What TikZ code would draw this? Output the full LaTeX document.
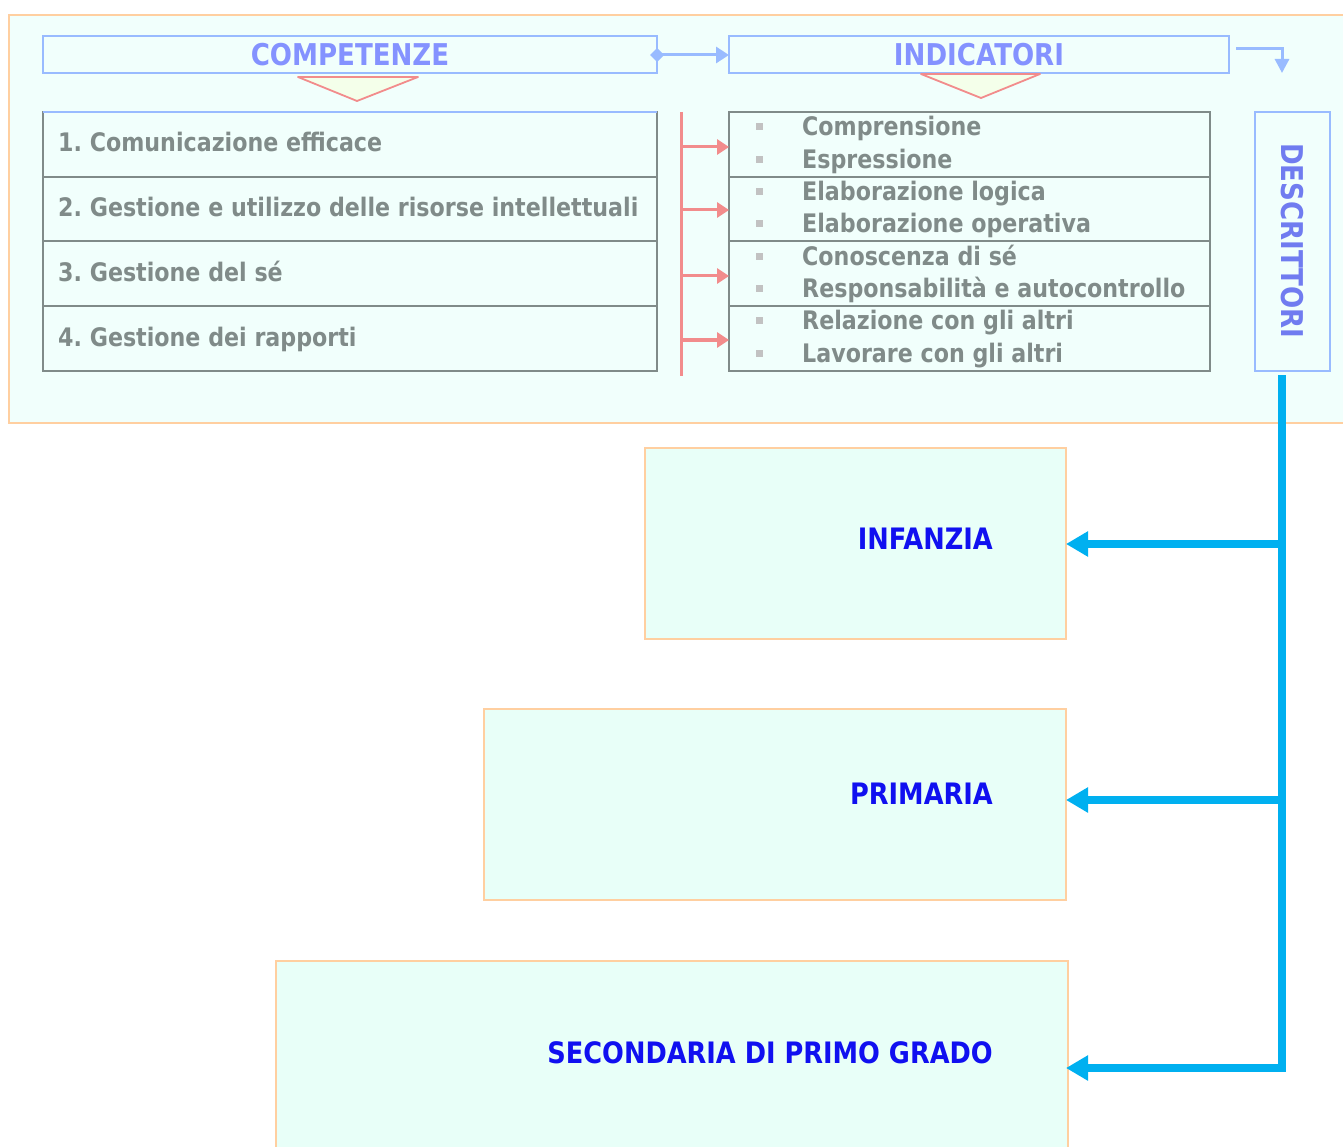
\documentclass[tikz,border=0pt]{standalone}
\usepackage{fontspec}
\setmainfont{DejaVu Sans}[FakeStretch=0.87]
\usetikzlibrary{arrows.meta}
\frenchspacing
\definecolor{panelline}{HTML}{FFCFA0}
\definecolor{panelfill}{HTML}{F1FFFC}
\definecolor{levelfill}{HTML}{E8FFF8}
\definecolor{headline}{HTML}{99BBFF}
\definecolor{headtext}{HTML}{8492FF}
\definecolor{greytext}{HTML}{808B89}
\definecolor{salmon}{HTML}{F28C8C}
\definecolor{tipfill}{HTML}{F4FFEA}
\definecolor{bulletgrey}{HTML}{C2C2C2}
\definecolor{cyanline}{HTML}{00B0F0}
\definecolor{leveltext}{HTML}{1010F0}
\definecolor{desctext}{HTML}{707CF0}
\tikzset{
  headbox/.style={draw=headline, line width=2pt, fill=panelfill},
  listbox/.style={draw=greytext, line width=2pt, fill=panelfill},
  listtext/.style={text=greytext, font=\fontsize{25.5}{30}\selectfont\bfseries, anchor=base west, inner sep=0pt},
  headtxt/.style={text=headtext, font=\fontsize{30}{34}\selectfont\bfseries},
  leveltxt/.style={text=leveltext, font=\fontsize{29.5}{34}\selectfont\bfseries, anchor=base east, inner sep=0pt},
  levelbox/.style={draw=panelline, line width=1.6pt, fill=levelfill},
  bullet/.style={fill=bulletgrey, minimum size=7pt, inner sep=0pt},
  redarrow/.style={draw=salmon, line width=3pt, -{Triangle[length=12pt,width=15pt]}},
  cyanarrow/.style={draw=cyanline, line width=8pt, -{Triangle[length=22pt,width=24pt]}},
  blueconn/.style={draw=headline, line width=3pt},
}
\begin{document}
\begin{tikzpicture}[x=1pt,y=-1pt]
\useasboundingbox (0,0) rectangle (1343,1147);
% outer panel
\draw[draw=panelline, line width=2pt, fill=panelfill] (9,15) rectangle (1360,423);

% headers
\draw[headbox] (43,36) rectangle (657,73);
\node[headtxt] (comp) at (350,55) {COMPETENZE};
\draw[headbox] (729,36) rectangle (1229,73);
\node[headtxt] (ind) at (979,55) {INDICATORI};
\coordinate (compR) at (650,55);
\coordinate (indL) at (729,55);

% small pointers below the headers
\draw[draw=salmon, line width=1.8pt, fill=tipfill, line join=round] (298,77) -- (418,77) -- (357,101) -- cycle;
\draw[draw=salmon, line width=1.8pt, fill=tipfill, line join=round] (921,74) -- (1040,74) -- (981,98) -- cycle;

% link between headers
\draw[blueconn, {Diamond[length=14pt,width=14pt]}-{Triangle[length=13pt,width=16pt]}] (compR) -- (indL);
% bent arrow towards the descriptors
\coordinate (bendS) at (1236,49);
\coordinate (bendE) at (1282,73);
\draw[blueconn, -{Triangle[length=14pt,width=14pt]}] (bendS) -| (bendE);

% competences list
\foreach \ya/\yb in {112/177,177/241,241/306,306/371}{
  \draw[listbox] (43,\ya) rectangle (657,\yb);
}
\draw[draw=headline, line width=2pt] (43,112) -- (657,112);
\node[listtext] (c1) at (58,152) {1. Comunicazione efficace};
\node[listtext] (c2) at (58,217) {2. Gestione e utilizzo delle risorse intellettuali};
\node[listtext] (c3) at (58,282) {3. Gestione del sé};
\node[listtext] (c4) at (58,346) {4. Gestione dei rapporti};

% indicators list
\foreach \ya/\yb in {112/177,177/241,241/306,306/371}{
  \draw[listbox] (729,\ya) rectangle (1210,\yb);
}
\foreach \y/\t [count=\i] in {127/Comprensione,160/Espressione,192/Elaborazione logica,
  224/Elaborazione operativa,257/Conoscenza di sé,289/Responsabilità e autocontrollo,
  321/Relazione con gli altri,353/Lavorare con gli altri}{
  \node[bullet] (b\i) at (759,\y) {};
  \node[listtext, anchor=base west] (i\i) at (802,\y+9) {\t};
}

% red bracket with arrows
\coordinate (rtop) at (681,112);
\coordinate (rbot) at (681,376);
\draw[draw=salmon, line width=3pt] (rtop) -- (rbot);
\foreach \y [count=\i] in {147,210,276,340}{
  \coordinate (rs\i) at (681,\y);
  \coordinate (re\i) at (729,\y);
  \draw[redarrow] (rs\i) -- (re\i);
}

% descriptors
\draw[headbox] (1255,112) rectangle (1330,371);
\node[headtxt, text=desctext, rotate=-90] (desc) at (1292,241) {DESCRITTORI};

% school levels
\draw[levelbox] (645,448) rectangle (1066,639);
\node[leveltxt] (inf) at (993,549) {INFANZIA};
\draw[levelbox] (484,709) rectangle (1066,900);
\node[leveltxt] (pri) at (993,804) {PRIMARIA};
\draw[levelbox] (276,961) rectangle (1068,1160);
\node[leveltxt] (sec) at (993,1063) {SECONDARIA DI PRIMO GRADO};

% cyan distribution line
\coordinate (ctop) at (1282,375);
\coordinate (cbend) at (1282,1068);
\coordinate (cj1) at (1282,544);
\coordinate (cj2) at (1282,800);
\coordinate (infR) at (1066,544);
\coordinate (priR) at (1066,800);
\coordinate (secR) at (1066,1068);
\draw[draw=cyanline, line width=8pt] (ctop) -- (cj2);
\draw[cyanarrow] (cj2) -- (cbend) -- (secR);
\draw[cyanarrow] (cj1) -- (infR);
\draw[cyanarrow] (cj2) -- (priR);
\end{tikzpicture}
\end{document}
